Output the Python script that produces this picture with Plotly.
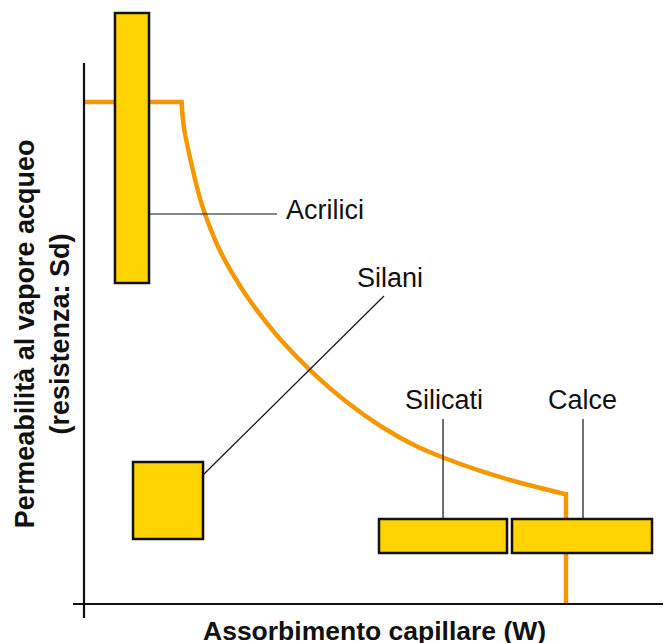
import plotly.graph_objects as go

# ---- data (arbitrary units: W on x, Sd on y) ----
# plateau, curved decline, final drop
plateau_w = [0.00, 17.20]
plateau_sd = [92.96, 92.96]
curve_w = [16.81, 17.24, 18.45, 19.83, 20.86, 23.10, 25.52, 27.93, 30.69,
           33.79, 38.97, 45.52, 51.38, 57.07, 61.90, 68.62, 74.83, 83.10]
curve_sd = [92.96, 88.15, 81.85, 75.74, 72.22, 66.20, 61.30, 57.22, 53.15,
            49.07, 43.33, 37.22, 32.78, 29.35, 27.13, 24.54, 22.54, 20.31]
drop_w = [83.10, 83.10]
drop_sd = [20.75, 0.00]

products = ["Acrilici", "Silani", "Silicati", "Calce"]
w_min = [5.34, 8.45, 50.86, 73.79]
w_max = [11.21, 20.52, 72.93, 97.93]
sd_min = [59.44, 12.04, 9.44, 9.44]
sd_max = [109.44, 26.30, 15.74, 15.74]

# leader lines: from box edge to label
lead_x0 = [11.21, 20.52, 61.90, 86.03]
lead_y0 = [72.22, 23.89, 15.74, 15.74]
lead_x1 = [33.28, 51.72, 61.90, 86.03]
lead_y1 = [72.22, 57.04, 34.26, 34.26]

label_x = [34.48, 52.84, 61.98, 85.86]
label_y = [72.96, 60.37, 37.78, 37.78]
label_anchor = ["left", "center", "center", "center"]

x_title = "Assorbimento capillare (W)"
y_title = "Permeabilità al vapore acqueo<br>(resistenza: Sd)"

FILL = "#FFD300"
ORANGE = "#F39800"
FONT = "Liberation Sans"

fig = go.Figure()
fig.add_trace(go.Scatter(x=plateau_w, y=plateau_sd, mode="lines",
                         line=dict(color=ORANGE, width=4.5),
                         hoverinfo="skip", showlegend=False))
fig.add_trace(go.Scatter(x=curve_w, y=curve_sd, mode="lines",
                         line=dict(color=ORANGE, width=4.5, shape="spline",
                                   smoothing=1.0),
                         hoverinfo="skip", showlegend=False))
fig.add_trace(go.Scatter(x=drop_w, y=drop_sd, mode="lines",
                         line=dict(color=ORANGE, width=4.5),
                         hoverinfo="skip", showlegend=False))

shapes = []
# axes
shapes.append(dict(type="line", x0=-1.90, x1=99.83, y0=0, y1=0,
                   line=dict(color="#111", width=2.2)))
shapes.append(dict(type="line", x0=0, x1=0, y0=-2.59, y1=100.19,
                   line=dict(color="#111", width=2.2)))
for i in range(len(products)):
    shapes.append(dict(type="line", x0=lead_x0[i], y0=lead_y0[i],
                       x1=lead_x1[i], y1=lead_y1[i],
                       line=dict(color="#111", width=1.2)))
    shapes.append(dict(type="rect", x0=w_min[i], x1=w_max[i],
                       y0=sd_min[i], y1=sd_max[i], fillcolor=FILL,
                       line=dict(color="#111", width=2.5)))

annotations = []
for i in range(len(products)):
    annotations.append(dict(x=label_x[i], y=label_y[i], text=products[i],
                            showarrow=False, xanchor=label_anchor[i],
                            yanchor="middle",
                            font=dict(family=FONT, size=27, color="#111")))
annotations.append(dict(x=50.0, y=-5.0, text="<b>" + x_title + "</b>",
                        showarrow=False, xanchor="center", yanchor="middle",
                        font=dict(family=FONT, size=26.5, color="#111")))
annotations.append(dict(x=-7.2, y=50.0, text="<b>" + y_title + "</b>",
                        showarrow=False, textangle=-90, xanchor="center",
                        yanchor="middle",
                        font=dict(family=FONT, size=27, color="#111")))

fig.update_layout(
    width=670, height=643,
    margin=dict(l=0, r=0, t=0, b=0),
    paper_bgcolor="white", plot_bgcolor="white",
    shapes=shapes, annotations=annotations,
    xaxis=dict(range=[-14.483, 101.03], visible=False, fixedrange=True),
    yaxis=dict(range=[-7.222, 111.85], visible=False, fixedrange=True),
    showlegend=False,
)
fig.write_html("out.html",
               config={"displayModeBar": False},
               post_script="document.body.style.margin='0';"
                           "document.body.style.overflow='hidden';")
